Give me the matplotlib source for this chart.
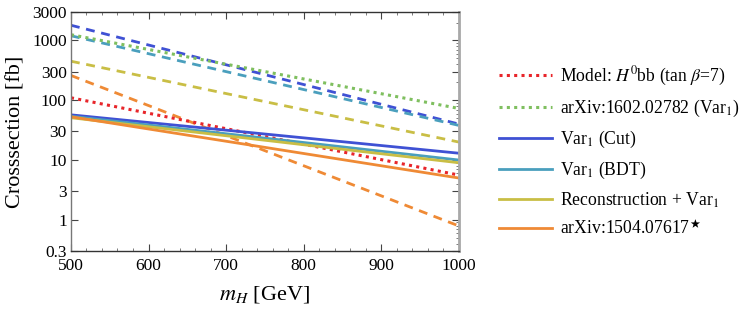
import matplotlib
matplotlib.use("Agg")
import matplotlib.pyplot as plt
from matplotlib.ticker import FixedLocator, NullFormatter, LogLocator

plt.rcParams['font.family'] = ['Liberation Serif', 'DejaVu Serif']
plt.rcParams['mathtext.fontset'] = 'stix'

mass = [500, 1000]

# solid lines
var1_cut = [57, 13]
var1_bdt = [54, 10]
reco_var1 = [51, 9.0]
arxiv1504 = [53, 5.0]
# dashed counterparts
var1_cut_d = [1800, 40]
var1_bdt_d = [1200, 38]
reco_var1_d = [450, 20]
arxiv1504_d = [260, 0.79]
# dotted
model_h0bb = [110, 5.6]
arxiv1602 = [1250, 73]

c_blue = '#3f51d4'
c_cyan = '#4a9fbd'
c_yel = '#c9be45'
c_orange = '#ef8a35'
c_green = '#7fbf5f'
c_red = '#e8252a'

labels = ["Model: $H^0$bb (tan $\\beta$=7)", "arXiv:1602.02782 (Var$_1$)",
          "Var$_1$ (Cut)", "Var$_1$ (BDT)", "Reconstruction + Var$_1$",
          "arXiv:1504.07617$^{\\bigstar}$"]

fig = plt.figure(figsize=(7.47, 3.09), dpi=100)
ax = fig.add_axes([0.0950, 0.1877, 0.5190, 0.7735])

dash = (0, (3.2, 2.4))
dot = (0, (1, 1.4))
lw = 2.0
ax.plot(mass, var1_cut_d, color=c_blue, ls=dash, lw=lw)
ax.plot(mass, var1_bdt_d, color=c_cyan, ls=dash, lw=lw)
ax.plot(mass, reco_var1_d, color=c_yel, ls=dash, lw=lw)
ax.plot(mass, arxiv1504_d, color=c_orange, ls=dash, lw=lw)

h = []
h += ax.plot(mass, model_h0bb, color=c_red, ls=dot, lw=2.2)
h += ax.plot(mass, arxiv1602, color=c_green, ls=dot, lw=2.2)
h += ax.plot(mass, var1_cut, color=c_blue, lw=lw)
h += ax.plot(mass, var1_bdt, color=c_cyan, lw=lw)
h += ax.plot(mass, reco_var1, color=c_yel, lw=lw)
h += ax.plot(mass, arxiv1504, color=c_orange, lw=lw)

ax.set_yscale('log')
ax.set_xlim(500, 1000)
ax.set_ylim(0.3, 3000)
yt = [0.3, 1, 3, 10, 30, 100, 300, 1000, 3000]
ax.yaxis.set_major_locator(FixedLocator(yt))
ax.set_yticklabels(['0.3', '1', '3', '10', '30', '100', '300', '1000', '3000'])
ax.yaxis.set_minor_locator(LogLocator(base=10, subs=range(2, 10)))
ax.yaxis.set_minor_formatter(NullFormatter())
ax.set_xticks([500, 600, 700, 800, 900, 1000])
ax.set_xticks(range(500, 1001, 20), minor=True)

ax.tick_params(axis='both', which='major', labelsize=12.5, direction='in',
               length=5, width=0.8, color='#444444', top=True, right=True)
ax.tick_params(axis='both', which='minor', direction='in', length=2.5,
               width=0.6, color='#666666', top=True, right=True)
ax.tick_params(axis='y', which='minor', left=False)
ax.tick_params(axis='y', which='major', pad=3)
ax.tick_params(axis='x', which='major', pad=5)

for s in ['left', 'bottom', 'top']:
    ax.spines[s].set_color('#333333')
    ax.spines[s].set_linewidth(1.0)
ax.spines['left'].set_color('#777777')
ax.spines['right'].set_color('#a8a8a8')
ax.spines['right'].set_linewidth(2.0)

ax.set_ylabel('Crosssection [fb]', fontsize=16)
ax.set_xlabel('$m_H$ [GeV]', fontsize=16, labelpad=7)
ax.yaxis.set_label_coords(-0.117, 0.5)

leg = fig.legend(h, labels, loc='upper left', bbox_to_anchor=(0.659, 0.812),
                 frameon=False, fontsize=12.7, handlelength=3.0,
                 labelspacing=0.55, handletextpad=0.45, borderaxespad=0)

fig.savefig('out.png', dpi=100)
